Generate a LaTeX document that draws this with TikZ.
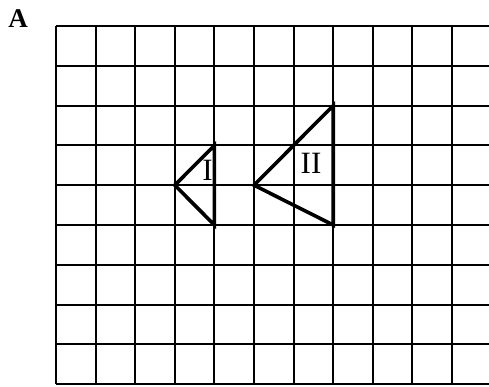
\documentclass[tikz,border=0pt]{standalone}
\usepackage{fontspec}
\setmainfont{Liberation Serif}
\begin{document}
\begin{tikzpicture}[x=1pt,y=-1pt,
  gridline/.style={line width=2.1pt,black},
  triline/.style={line width=3.6pt,black,line join=miter,line cap=round},
  lbl/.style={inner sep=0pt,font=\fontsize{31}{31}\selectfont}]
\useasboundingbox (0,0) rectangle (489,387);
\def\cw{39.6}
\def\ch{39.8}
% vertical lines
\foreach \k in {0,...,10}{
  \draw[gridline] ({56+\k*\cw},26) -- ({56+\k*\cw},{26+9*\ch});
}
% horizontal lines
\foreach \k in {0,...,9}{
  \draw[gridline] (56,{26+\k*\ch}) -- (489,{26+\k*\ch});
}
% triangle I
\coordinate (a1) at ({56+3*\cw},{26+4*\ch});
\coordinate (b1) at ({56+4*\cw},{26+3*\ch});
\coordinate (c1) at ({56+4*\cw},{26+5*\ch});
\draw[triline] (a1) -- (b1) -- (c1) -- cycle;
% triangle II
\coordinate (a2) at ({56+5*\cw},{26+4*\ch});
\coordinate (b2) at ({56+7*\cw},{26+2*\ch});
\coordinate (c2) at ({56+7*\cw},{26+5*\ch});
\draw[triline] (a2) -- (b2) -- (c2) -- cycle;
\node[lbl] (l1) at (207.5,170) {I};
\node[lbl] (l2) at (311,163) {II};
\node[inner sep=0pt,font=\fontsize{27}{27}\selectfont\bfseries] (A) at (18,18.5) {A};
\end{tikzpicture}
\end{document}
